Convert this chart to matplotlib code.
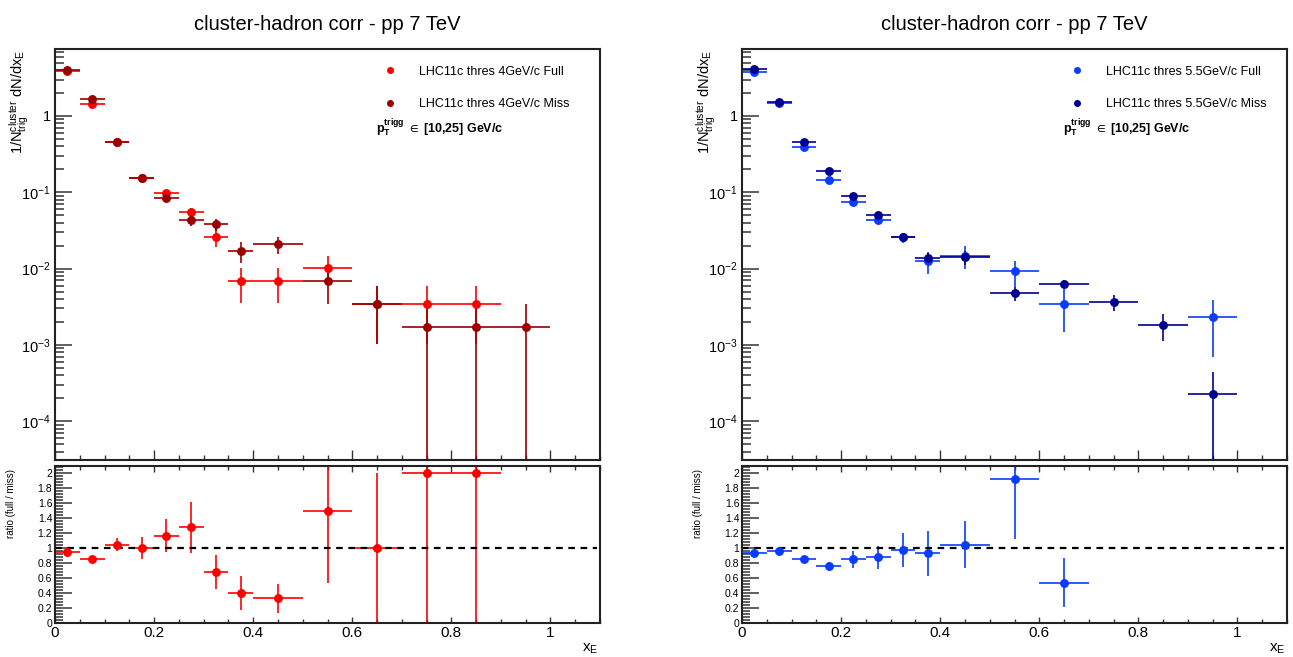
import numpy as np
import matplotlib
matplotlib.use("Agg")
import matplotlib.pyplot as plt
import matplotlib.ticker as ticker
from matplotlib.lines import Line2D

plt.rcParams['font.family'] = ['Liberation Sans', 'DejaVu Sans']
plt.rcParams['mathtext.fontset'] = 'custom'
plt.rcParams['mathtext.rm'] = 'Liberation Sans'
plt.rcParams['mathtext.it'] = 'Liberation Sans'
plt.rcParams['mathtext.bf'] = 'Liberation Sans:bold'
plt.rcParams['mathtext.fallback'] = 'stixsans'

# bins in x_E
x_centers = [0.025, 0.075, 0.125, 0.175, 0.225, 0.275, 0.325, 0.375,
             0.45, 0.55, 0.65, 0.75, 0.85, 0.95]
x_halfw = [0.025, 0.025, 0.025, 0.025, 0.025, 0.025, 0.025, 0.025,
           0.05, 0.05, 0.05, 0.05, 0.05, 0.05]

# left: threshold 4 GeV/c  (nan = empty bin)
full4 = [3.9, 1.44, 0.45, 0.153, 0.097, 0.0547, 0.026, 0.00688,
         0.00688, 0.0103, 0.00344, 0.00344, 0.00344, np.nan]
full4_err = [0.08, 0.05, 0.025, 0.012, 0.009, 0.0081, 0.0066, 0.0033,
             0.0033, 0.0042, 0.0024, 0.0024, 0.0024, np.nan]
miss4 = [4.05, 1.69, 0.46, 0.153, 0.083, 0.043, 0.038, 0.0172,
         0.0209, 0.00688, 0.00344, 0.00172, 0.00172, 0.00172]
miss4_err = [0.08, 0.05, 0.025, 0.012, 0.008, 0.007, 0.007, 0.0052,
             0.0052, 0.0034, 0.0024, 0.0017, 0.0017, 0.0017]
ratio4 = [0.95, 0.86, 1.05, 1.0, 1.165, 1.28, 0.68, 0.40,
          0.33, 1.50, 1.0, 2.0, 2.0]
ratio4_err = [0.03, 0.02, 0.09, 0.15, 0.22, 0.34, 0.23, 0.23,
              0.19, 0.97, 1.0, 2.45, 2.45]

# right: threshold 5.5 GeV/c
full55 = [3.81, 1.47, 0.389, 0.145, 0.0753, 0.0434, 0.0257, 0.0126,
          0.0148, 0.0092, 0.00347, np.nan, np.nan, 0.00229]
full55_err = [0.08, 0.05, 0.02, 0.008, 0.006, 0.005, 0.004, 0.004,
              0.005, 0.0034, 0.002, np.nan, np.nan, 0.0016]
miss55 = [4.09, 1.52, 0.456, 0.19, 0.0885, 0.0499, 0.0259, 0.0136,
          0.0141, 0.00478, 0.00634, 0.00365, 0.00182, 0.000229]
miss55_err = [0.08, 0.05, 0.02, 0.01, 0.006, 0.005, 0.003, 0.0025,
              0.003, 0.001, 0.0008, 0.0009, 0.0007, 0.000216]
ratio55 = [0.94, 0.96, 0.86, 0.76, 0.85, 0.88, 0.98, 0.93,
           1.05, 1.93, 0.54]
ratio55_err = [0.02, 0.02, 0.03, 0.06, 0.11, 0.155, 0.23, 0.30,
               0.32, 0.80, 0.33]

panels = [
    dict(full=full4, full_err=full4_err, miss=miss4, miss_err=miss4_err,
         ratio=ratio4, ratio_err=ratio4_err,
         c_full='#ff0000', c_miss='#990000',
         lab_full='LHC11c thres 4GeV/c Full', lab_miss='LHC11c thres 4GeV/c Miss'),
    dict(full=full55, full_err=full55_err, miss=miss55, miss_err=miss55_err,
         ratio=ratio55, ratio_err=ratio55_err,
         c_full='#0a3cff', c_miss='#00008f',
         lab_full='LHC11c thres 5.5GeV/c Full', lab_miss='LHC11c thres 5.5GeV/c Miss'),
]

W, H = 1293, 657
fig = plt.figure(figsize=(W / 100, H / 100), dpi=100)


def fx(px):
    return px / W


def fy(py):
    return 1 - py / H


ms = 5.4
lw = 1.2

for p, left in zip(panels, [55, 742]):
    axw = 545
    ax = fig.add_axes([fx(left), fy(460), fx(axw), (460 - 49) / H])
    axr = fig.add_axes([fx(left), fy(623), fx(axw), (623 - 466) / H])

    x = np.array(x_centers)
    xe = np.array(x_halfw)
    for y, ye, c in [(p['full'], p['full_err'], p['c_full']),
                     (p['miss'], p['miss_err'], p['c_miss'])]:
        y = np.array(y)
        ye = np.array(ye)
        ok = ~np.isnan(y)
        ax.errorbar(x[ok], y[ok], xerr=xe[ok], yerr=ye[ok], fmt='o', color=c,
                    ms=ms, elinewidth=lw, capsize=0)

    ax.set_yscale('log')
    ax.set_xlim(0, 1.1)
    ax.set_ylim(3.1e-5, 7.55)
    ax.set_title('cluster-hadron corr - pp 7 TeV', fontsize=14.5, pad=14)

    ax.yaxis.set_major_locator(ticker.LogLocator(base=10, numticks=20))
    ax.yaxis.set_minor_locator(ticker.LogLocator(base=10, subs=np.arange(2, 10), numticks=20))
    ax.yaxis.set_minor_formatter(ticker.NullFormatter())

    def logfmt(v, pos):
        e = int(round(np.log10(v)))
        if e == 0:
            return '1'
        return r'10$^{\mathregular{-%d}}$' % (-e)
    ax.yaxis.set_major_formatter(ticker.FuncFormatter(logfmt))

    ax.xaxis.set_major_locator(ticker.MultipleLocator(0.2))
    ax.xaxis.set_minor_locator(ticker.MultipleLocator(0.05))
    ax.tick_params(axis='x', which='both', direction='in', labelbottom=False,
                   top=False, bottom=True, color='#333333')
    ax.tick_params(axis='x', which='major', length=7.2, width=1)
    ax.tick_params(axis='x', which='minor', length=3.6, width=1)
    ax.tick_params(axis='y', which='both', direction='in', right=False,
                   color='#444444', labelsize=10.5, pad=3)
    ax.tick_params(axis='y', which='major', length=12.5, width=1.2)
    ax.tick_params(axis='y', which='minor', length=6.5, width=1.2)
    for s in ax.spines.values():
        s.set_linewidth(1.5)
        s.set_color('#222222')

    handles = [Line2D([], [], ls='none', marker='o', ms=4, color=p['c_full']),
               Line2D([], [], ls='none', marker='o', ms=4, color=p['c_miss'])]
    ax.legend(handles, [p['lab_full'], p['lab_miss']], loc='upper left',
              bbox_to_anchor=(0.603, 0.959), frameon=False, fontsize=9,
              handlelength=1.0, handletextpad=1.8, labelspacing=1.65,
              borderpad=0, borderaxespad=0)
    ax.text(0.589, 0.7956, r'$\mathbf{p_{T}^{trigg}}\ \in\ \mathbf{[10{,}25]\ GeV/c}$',
            transform=ax.transAxes, fontsize=9, fontweight='bold',
            ha='left', va='baseline')

    # ratio panel
    nr = len(p['ratio'])
    axr.errorbar(x[:nr], p['ratio'], xerr=xe[:nr], yerr=p['ratio_err'], fmt='o',
                 color=p['c_full'], ms=ms, elinewidth=lw, capsize=0)
    axr.axhline(1.0, xmin=0, xmax=1.094 / 1.1, color='black', ls=(0, (3, 2.5)), lw=1.6)
    axr.set_xlim(0, 1.1)
    axr.set_ylim(0, 2.1)
    axr.xaxis.set_major_locator(ticker.MultipleLocator(0.2))
    axr.xaxis.set_minor_locator(ticker.MultipleLocator(0.05))
    axr.yaxis.set_major_locator(ticker.MultipleLocator(0.2))
    axr.yaxis.set_minor_locator(ticker.MultipleLocator(0.04))
    axr.xaxis.set_major_formatter(ticker.FuncFormatter(lambda v, pos: '%g' % round(v, 2)))
    axr.yaxis.set_major_formatter(ticker.FuncFormatter(lambda v, pos: '%g' % round(v, 2)))
    axr.tick_params(axis='x', which='both', direction='in', top=True, bottom=True,
                    color='#333333', labelsize=11, pad=2)
    axr.tick_params(axis='x', which='major', length=4.5, width=1)
    axr.tick_params(axis='x', which='minor', length=3, width=1)
    axr.tick_params(axis='y', which='both', direction='in', right=False,
                    color='#444444', labelsize=7.5, pad=2)
    axr.tick_params(axis='y', which='major', length=12.5, width=1.2)
    axr.tick_params(axis='y', which='minor', length=6, width=1.2)
    for s in axr.spines.values():
        s.set_linewidth(1.5)
        s.set_color('#222222')

    # axis titles
    fig.text(fx(left - 36), fy(50),
             r'$\mathregular{1/N^{cluster}_{trig}\ dN/dx_{E}}$',
             rotation=90, ha='center', va='top', fontsize=10.5)
    fig.text(fx(left - 44), fy(469), 'ratio (full / miss)',
             rotation=90, ha='center', va='top', fontsize=7)
    fig.text(fx(left + axw - 2), fy(652), r'$\mathregular{x_{E}}$',
             ha='right', va='baseline', fontsize=11)

fig.savefig('out.png', dpi=100)
